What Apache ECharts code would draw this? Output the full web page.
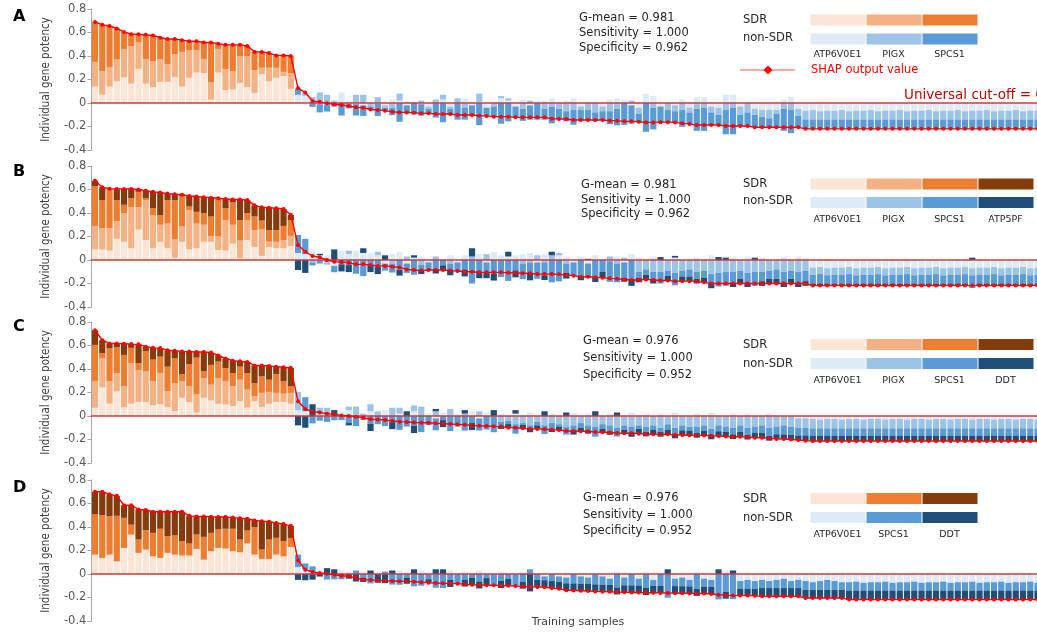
<!DOCTYPE html>
<html>
<head>
<meta charset="utf-8">
<script src="https://cdn.jsdelivr.net/npm/echarts@6/dist/echarts.min.js"></script>
<style>
  html, body { margin: 0; padding: 0; overflow: hidden; background: #ffffff; }
  #chart { width: 1060px; height: 632px; }
</style>
</head>
<body>
<div id="chart"></div>
<script>
// Per-sample SHAP contributions of each gene, samples ordered by model output.
// The first 28 samples are SDR, the rest non-SDR.
const SDR_COUNT = 28;
const SAMPLE_COUNT = 131;
const samples = Array.from({ length: SAMPLE_COUNT }, (_, i) => 'S' + (i + 1));

// ---- Panel A: ATP6V0E1, PIGX, SPCS1 ----
const A_ATP6V0E1 = [
  .14,.07,.14,.185,.22,.165,.29,.165,.135,.18,
  .18,.22,.14,.215,.26,.255,.03,.26,.11,.115,
  .17,.135,.085,.245,.185,.215,.23,.12,
  .07,.06,.03,-.01,-.013,.01,.09,.02,-.01,-.02,
  0,-.005,-.02,.03,.02,-.02,.015,-.01,-.03,0,
  .03,-.03,0,.04,-.02,.01,-.04,0,.04,.02,
  -.03,.03,-.02,.02,.02,.04,0,.02,.04,-.03,
  0,.01,-.03,.03,.04,.03,-.02,-.04,.08,.06,
  -.03,0,-.02,.03,-.04,.05,.05,-.03,-.04,.07,
  .07,-.03,0,-.05,-.06,-.06,-.06,.03,.05,-.05,
  -.065,-.06,-.07,-.065,-.065,-.06,-.07,-.065,-.065,-.06,
  -.07,-.065,-.065,-.06,-.07,-.065,-.065,-.06,-.07,-.065,
  -.065,-.06,-.07,-.065,-.065,-.06,-.07,-.065,-.065,-.06,
  -.07,-.065,-.065
];
const A_PIGX = [
  .21,.20,.165,.185,.24,.32,.225,.21,.22,.19,
  .15,.195,.295,.235,.19,.12,.145,.20,.18,.155,
  .23,.265,.195,.055,.115,.085,.035,.135,
  0,.03,.02,.09,.07,.01,0,-.01,.07,.07,
  -.03,.05,-.02,-.04,.06,.01,0,.02,-.02,.03,
  .04,-.02,.04,-.04,0,.07,0,-.03,.02,.02,
  0,-.05,.02,0,-.05,-.03,-.05,-.07,-.06,-.03,
  -.06,-.08,-.04,-.07,-.05,0,.02,-.05,0,-.04,
  0,-.06,-.05,-.06,-.04,-.05,-.04,-.05,-.06,-.06,
  -.04,-.07,-.08,-.05,-.06,-.07,-.03,-.05,-.06,-.06,
  -.075,-.08,-.07,-.075,-.075,-.08,-.07,-.075,-.075,-.08,
  -.07,-.075,-.075,-.08,-.07,-.075,-.075,-.08,-.07,-.075,
  -.075,-.08,-.07,-.075,-.075,-.08,-.07,-.075,-.075,-.08,
  -.07,-.075,-.075
];
const A_SPCS1 = [
  .34,.395,.35,.265,.145,.10,.07,.205,.22,.185,
  .215,.13,.10,.075,.075,.14,.34,.045,.205,.225,
  .095,.085,.155,.135,.125,.105,.14,.145,
  .055,0,-.033,-.07,-.06,-.031,-.107,-.036,-.097,-.09,
  -.025,-.105,-.025,-.064,-.16,-.07,-.097,-.098,-.038,-.124,
  -.164,-.044,-.142,-.102,-.082,-.188,-.07,-.086,-.176,-.156,
  -.092,-.102,-.122,-.142,-.092,-.143,-.086,-.086,-.125,-.085,
  -.085,-.075,-.075,-.11,-.14,-.186,-.156,-.07,-.245,-.185,
  -.133,-.103,-.095,-.143,-.098,-.187,-.197,-.107,-.087,-.206,
  -.226,-.096,-.116,-.107,-.087,-.077,-.117,-.187,-.197,-.097,
  -.08,-.08,-.08,-.08,-.08,-.08,-.08,-.08,-.08,-.08,
  -.08,-.08,-.08,-.08,-.08,-.08,-.08,-.08,-.08,-.08,
  -.08,-.08,-.08,-.08,-.08,-.08,-.08,-.08,-.08,-.08,
  -.08,-.08,-.08
];

// ---- Panel B: ATP6V0E1, PIGX, SPCS1, ATP5PF ----
const B_ATP6V0E1 = [
  .09,.09,.08,.18,.155,.10,.26,.17,.10,.155,
  .10,.02,.155,.09,.10,.155,.155,.085,.08,.14,
  .015,.17,.11,.035,.11,.10,.10,.12,
  .06,.05,.08,.04,.04,-.05,.08,.05,.08,.06,
  .06,.04,-.03,.05,.07,-.03,.02,.03,-.02,0,
  0,.04,-.02,.04,0,.05,-.02,.07,.04,.03,
  .04,.05,.06,-.02,.05,0,.04,.03,-.02,.03,
  -.03,.04,0,-.01,.03,-.02,.05,.02,0,.03,
  0,0,.02,0,0,.02,0,.04,0,0,
  .03,0,.03,0,.02,0,0,.03,0,.03,
  .02,-.065,-.06,-.07,-.065,-.065,-.06,-.07,-.065,-.065,
  -.06,-.07,-.065,-.065,-.06,-.07,-.065,-.065,-.06,-.07,
  -.065,-.065,-.06,-.07,-.065,-.065,-.06,-.07,-.065,-.065,
  -.06,-.07,-.065
];
const B_PIGX = [
  .20,.18,.19,.15,.245,.35,.19,.34,.28,.145,
  .21,.155,.13,.335,.21,.145,.05,.115,.26,.16,
  .15,.17,.145,.225,.045,.055,.07,.085,
  0,0,-.02,0,-.04,0,0,.03,0,0,
  0,.03,0,-.03,0,.03,0,-.04,0,.03,
  0,-.03,0,0,.03,0,.05,0,0,0,
  0,-.03,-.02,.04,-.02,.04,.02,-.03,0,0,
  0,0,0,.03,-.03,.02,0,-.1,-.08,-.1,
  -.1,-.09,-.11,-.09,-.08,-.1,-.09,-.12,-.11,-.1,
  -.1,-.09,-.11,-.1,-.1,-.09,-.08,-.1,-.09,-.1,
  -.09,-.06,-.06,-.06,-.06,-.06,-.06,-.06,-.06,-.06,
  -.06,-.06,-.06,-.06,-.06,-.06,-.06,-.06,-.06,-.06,
  -.06,-.06,-.06,-.06,-.06,-.06,-.06,-.06,-.06,-.06,
  -.06,-.06,-.06
];
const B_SPCS1 = [
  .34,.24,.337,.18,.07,.075,.13,.015,.06,.08,
  .20,.335,.27,.03,.10,.10,.165,.325,.10,.19,
  .175,.06,.115,.075,.10,.10,.12,.135,
  .153,.13,-.026,-.03,0,-.054,-.037,-.043,-.117,-.137,
  -.043,-.06,-.06,-.077,-.083,-.08,-.125,-.05,-.065,-.075,
  -.045,-.06,-.074,-.08,-.2,-.1,-.09,-.115,-.145,-.178,
  -.088,-.133,-.093,-.14,-.11,-.19,-.182,-.078,-.113,-.132,
  -.122,-.147,-.1,-.176,-.16,-.13,-.17,-.05,-.045,-.06,
  -.1,-.045,-.105,-.05,-.06,-.06,-.06,-.08,-.115,-.12,
  -.09,-.07,-.08,-.12,-.08,-.07,-.08,-.09,-.07,-.09,
  -.09,-.075,-.08,-.07,-.075,-.075,-.08,-.07,-.075,-.075,
  -.08,-.07,-.075,-.075,-.08,-.07,-.075,-.075,-.08,-.07,
  -.075,-.075,-.08,-.108,-.075,-.075,-.08,-.07,-.075,-.075,
  -.08,-.07,-.075
];
const B_ATP5PF = [
  .045,.11,0,.095,.135,.08,.02,.065,.14,.195,
  .055,.05,0,.09,.13,.135,.16,0,.08,.025,
  .175,.11,.095,.115,.19,.185,.145,.045,
  -.085,-.11,0,.013,0,.09,-.06,-.06,0,.04,
  -.06,-.06,.04,0,-.05,0,.02,-.03,0,-.04,
  -.04,-.04,0,-.06,.07,-.055,-.045,-.06,0,.04,
  -.06,0,-.06,0,-.04,.03,0,-.05,0,-.04,
  .01,-.04,-.05,0,0,-.035,-.05,-.04,-.04,-.04,
  .025,-.04,.015,-.04,-.04,-.04,-.04,-.04,.025,.02,
  -.04,-.04,-.04,.02,-.04,-.04,-.04,-.04,-.04,-.04,
  -.04,-.018,-.018,-.018,-.018,-.018,-.018,-.018,-.018,-.018,
  -.018,-.018,-.018,-.018,-.018,-.018,-.018,-.018,-.018,-.018,
  -.018,-.018,-.018,.02,-.018,-.018,-.018,-.018,-.018,-.018,
  -.018,-.018,-.018
];

// ---- Panel C: ATP6V0E1, PIGX, SPCS1, DDT ----
const C_ATP6V0E1 = [
  .07,.245,.105,.21,.075,.105,.12,.12,.09,.10,
  .075,.04,.155,.12,.03,.155,.132,.104,.098,.084,
  .126,.07,.126,.076,.104,.12,.12,.104,
  .05,.04,0,.03,0,0,.04,.05,0,-.02,
  .04,0,.05,0,.02,0,.04,0,.02,-.02,
  .03,0,.02,0,.04,-.02,.03,0,.02,0,
  .02,0,.03,0,0,.02,0,0,.03,0,
  .02,0,0,.02,0,0,.03,0,.02,0,
  .02,0,.03,0,0,.02,0,.03,0,0,
  .02,0,.02,0,0,.02,0,0,0,-.02,
  -.02,-.025,-.03,-.025,-.025,-.03,-.025,-.025,-.03,-.025,
  -.025,-.03,-.025,-.025,-.03,-.025,-.025,-.03,-.025,-.025,
  -.03,-.025,-.025,-.03,-.025,-.025,-.03,-.025,-.025,-.03,
  -.025,-.025,-.03
];
const C_PIGX = [
  .225,.245,.19,.155,.18,.345,.27,.26,.205,.265,
  .135,.24,.14,.133,.153,.168,.135,.219,.197,.169,
  .183,.155,.042,.121,.101,.077,.07,.093,
  .155,0,0,.04,.07,0,0,.03,.08,.02,
  .06,.04,0,.07,.05,0,.05,.08,0,.04,
  0,.06,0,.02,0,.04,0,0,-.05,-.04,
  -.07,-.06,-.08,-.05,-.08,-.06,-.07,-.09,-.08,-.06,
  -.08,-.09,-.07,-.08,-.1,-.08,-.09,-.08,-.09,-.08,
  -.1,-.07,-.1,-.08,-.09,-.09,-.08,-.11,-.08,-.09,
  -.1,-.08,-.1,-.09,-.08,-.1,-.09,-.08,-.09,-.08,
  -.08,-.08,-.075,-.08,-.08,-.075,-.08,-.08,-.075,-.08,
  -.08,-.075,-.08,-.08,-.075,-.08,-.08,-.075,-.08,-.08,
  -.075,-.08,-.08,-.075,-.08,-.08,-.075,-.08,-.08,-.075,
  -.08,-.08,-.075
];
const C_SPCS1 = [
  .31,.045,.28,.22,.265,.13,.06,.17,.185,.14,
  .21,.21,.062,.187,.314,.057,.168,.14,.112,.112,
  .111,.14,.112,.14,.104,.16,.105,.056,
  0,.12,-.063,-.04,-.05,-.036,-.035,-.06,-.086,-.014,
  -.068,-.07,-.085,-.052,-.118,-.09,-.085,-.137,-.077,-.102,
  -.035,-.128,-.091,-.124,-.06,-.103,-.115,-.138,-.03,-.029,
  -.08,-.015,-.028,-.03,-.073,-.046,-.02,-.068,-.048,-.04,
  -.04,-.086,-.038,-.05,-.075,-.037,-.047,-.03,-.043,-.035,
  -.036,-.046,-.05,-.042,-.034,-.055,-.045,-.048,-.05,-.045,
  -.056,-.056,-.06,-.055,-.065,-.07,-.065,-.076,-.07,-.065,
  -.065,-.062,-.062,-.062,-.062,-.062,-.062,-.062,-.062,-.062,
  -.062,-.062,-.062,-.062,-.062,-.062,-.062,-.062,-.062,-.062,
  -.062,-.062,-.062,-.062,-.062,-.062,-.062,-.062,-.062,-.062,
  -.062,-.062,-.062
];
const C_DDT = [
  .125,.11,.043,.033,.095,.032,.16,.04,.10,.073,
  .14,.065,.193,.108,.048,.165,.105,.052,.083,.105,
  .045,.095,.15,.093,.116,.063,.12,.157,
  -.08,-.1,.1,0,0,.05,0,-.02,0,0,
  -.06,0,0,-.06,0,.04,-.06,0,0,.02,
  -.06,0,0,.03,-.06,0,0,.05,-.03,-.03,
  .03,-.03,-.03,-.03,.04,-.03,-.03,.03,-.03,-.03,
  -.03,.04,-.03,-.03,.03,-.03,-.04,-.04,-.04,-.04,
  -.04,-.04,-.04,-.04,-.04,-.04,-.04,-.04,-.04,-.04,
  -.04,-.04,-.04,-.04,-.04,-.04,-.04,-.04,-.04,-.04,
  -.045,-.046,-.046,-.046,-.046,-.046,-.046,-.046,-.046,-.046,
  -.046,-.046,-.046,-.046,-.046,-.046,-.046,-.046,-.046,-.046,
  -.046,-.046,-.046,-.046,-.046,-.046,-.046,-.046,-.046,-.046,
  -.046,-.046,-.046
];

// ---- Panel D: ATP6V0E1, SPCS1, DDT ----
const D_ATP6V0E1 = [
  .165,.137,.165,.108,.222,.335,.18,.208,.15,.137,
  .18,.165,.157,.157,.214,.122,.194,.222,.216,.194,
  .185,.26,.165,.128,.128,.165,.15,.23,
  .06,.04,.02,.03,0,0,.03,.02,0,.02,
  0,.02,0,0,.03,.02,0,.03,0,0,
  0,.03,0,.02,0,.03,0,0,.02,0,
  0,.02,0,0,-.02,0,-.02,-.03,0,-.02,
  -.03,0,-.02,-.04,.02,-.03,0,-.04,.02,-.05,
  0,0,-.04,-.03,-.05,.02,-.04,-.05,0,.03,
  0,-.06,-.05,-.06,-.05,-.06,-.05,-.04,-.06,-.05,
  -.06,-.07,-.06,-.05,-.06,-.07,-.07,-.065,-.075,-.07,
  -.07,-.065,-.075,-.07,-.07,-.065,-.075,-.07,-.07,-.065,
  -.075,-.07,-.07,-.065,-.075,-.07,-.07,-.065,-.075,-.07,
  -.07,-.065,-.075
];
const D_SPCS1 = [
  .342,.363,.328,.387,.256,.085,.113,.165,.2,.248,
  .142,.163,.123,.103,.122,.194,.156,.157,.169,.191,
  .108,.11,.235,.08,.165,.143,.13,.077,
  .105,.05,.045,0,-.047,-.046,-.045,0,.03,-.03,
  -.08,0,.02,-.09,-.092,-.03,-.105,-.1,-.044,-.117,
  -.119,-.05,-.082,-.047,-.031,-.063,-.035,-.096,-.059,-.04,
  -.103,-.065,.04,-.05,-.033,-.06,-.045,-.049,-.08,-.062,
  -.055,-.088,-.07,-.052,-.114,-.066,-.097,-.058,-.119,-.05,
  -.101,-.202,-.063,-.074,-.055,-.126,-.067,-.06,-.216,-.15,
  -.214,-.064,-.074,-.066,-.07,-.06,-.07,-.08,-.06,-.07,
  -.074,-.064,-.074,-.084,-.074,-.064,-.07,-.075,-.065,-.07,
  -.07,-.075,-.065,-.07,-.07,-.075,-.065,-.07,-.07,-.075,
  -.065,-.07,-.07,-.075,-.065,-.07,-.07,-.075,-.065,-.07,
  -.07,-.075,-.065
];
const D_DDT = [
  .193,.2,.185,.17,.107,.165,.257,.172,.18,.145,
  .208,.202,.25,.235,.154,.174,.137,.106,.1,.095,
  .182,.1,.055,.242,.152,.127,.145,.103,
  -.05,-.053,-.048,-.022,.05,.04,0,-.04,-.064,-.038,
  .03,-.074,-.078,.03,0,-.053,.04,0,-.03,.04,
  .04,-.06,0,-.06,-.06,-.06,-.06,0,-.06,-.06,
  0,-.06,-.148,-.06,-.06,-.06,-.06,-.06,-.06,-.06,
  -.06,-.06,-.06,-.06,-.06,-.06,-.06,-.06,-.06,-.06,
  -.06,.04,-.06,-.06,-.06,-.06,-.06,-.06,.04,-.06,
  .03,-.06,-.06,-.06,-.07,-.07,-.07,-.07,-.07,-.07,
  -.07,-.07,-.07,-.07,-.07,-.07,-.078,-.078,-.078,-.078,
  -.078,-.078,-.078,-.078,-.078,-.078,-.078,-.078,-.078,-.078,
  -.078,-.078,-.078,-.078,-.078,-.078,-.078,-.078,-.078,-.078,
  -.078,-.078,-.078
];

// Classification scores printed beside each panel
const STATS_A = ['G-mean = 0.981', 'Sensitivity = 1.000', 'Specificity = 0.962'];
const STATS_B = ['G-mean = 0.981', 'Sensitivity = 1.000', 'Specificity = 0.962'];
const STATS_C = ['G-mean = 0.976', 'Sensitivity = 1.000', 'Specificity = 0.952'];
const STATS_D = ['G-mean = 0.976', 'Sensitivity = 1.000', 'Specificity = 0.952'];
const Y_TICKS = { min: -0.4, max: 0.8, step: 0.2 };

// Palette: tone index 0..3 from lightest to darkest
const SDR_TONES = ['#fbe5d6', '#f4b183', '#ed7d31', '#843c0c'];
const NON_TONES = ['#deebf7', '#9dc3e6', '#5b9bd5', '#1f4e79'];

const panels = [
  { letter: 'A', genes: ['ATP6V0E1', 'PIGX', 'SPCS1'], values: [A_ATP6V0E1, A_PIGX, A_SPCS1], tones: [0, 1, 2], stats: STATS_A,
    top: 9, letterY: 17, statsX: 579, statsY: [18, 33, 48], keyY: [20, 38], rowY: [14.5, 33.5], geneY: 55 },
  { letter: 'B', genes: ['ATP6V0E1', 'PIGX', 'SPCS1', 'ATP5PF'], values: [B_ATP6V0E1, B_PIGX, B_SPCS1, B_ATP5PF], tones: [0, 1, 2, 3], stats: STATS_B,
    top: 166, letterY: 172, statsX: 581, statsY: [185, 200, 214], keyY: [184, 201.5], rowY: [178.5, 197], geneY: 220 },
  { letter: 'C', genes: ['ATP6V0E1', 'PIGX', 'SPCS1', 'DDT'], values: [C_ATP6V0E1, C_PIGX, C_SPCS1, C_DDT], tones: [0, 1, 2, 3], stats: STATS_C,
    top: 322, letterY: 327, statsX: 583, statsY: [341, 358, 375], keyY: [345, 364], rowY: [339, 358], geneY: 381 },
  { letter: 'D', genes: ['ATP6V0E1', 'SPCS1', 'DDT'], values: [D_ATP6V0E1, D_SPCS1, D_DDT], tones: [0, 2, 3], stats: STATS_D,
    top: 480, letterY: 488, statsX: 583, statsY: [498, 515, 531], keyY: [499, 518], rowY: [493, 512], geneY: 535 }
];

const FONT = '"DejaVu Sans", "Noto Sans", sans-serif';
const PLOT_H = 141;
const PLOT_LEFT = 91.4;
const PLOT_RIGHT = 18.85;

const grid = [], xAxis = [], yAxis = [], series = [], graphic = [];

function text(x, y, str, size, color, extra) {
  return {
    type: 'text', x: x, y: y, silent: true,
    style: Object.assign({ text: str, fill: color, font: size + 'px ' + FONT, align: 'left', verticalAlign: 'middle' }, extra || {})
  };
}

panels.forEach((p, k) => {
  grid.push({ left: PLOT_LEFT, right: PLOT_RIGHT, top: p.top, height: PLOT_H });
  xAxis.push({
    gridIndex: k, type: 'category', data: samples, z: 3,
    axisLabel: { show: false }, axisTick: { show: false }, splitLine: { show: false },
    axisLine: { show: true, onZero: true, lineStyle: { color: '#d23a3a', width: 1.6 } }
  });
  yAxis.push({
    gridIndex: k, type: 'value', min: Y_TICKS.min, max: Y_TICKS.max, interval: Y_TICKS.step,
    axisLine: { show: true, lineStyle: { color: '#a6a6a6', width: 1 } },
    axisTick: { show: true, length: 4, lineStyle: { color: '#a6a6a6' } },
    splitLine: { show: false },
    axisLabel: {
      margin: 5, color: '#595959', fontSize: 11.5, fontFamily: FONT,
      formatter: v => (Math.abs(v) < 1e-9 ? '0' : String(+v.toFixed(1)))
    },
    name: 'Individual gene potency', nameLocation: 'middle', nameGap: 39, nameRotate: 90,
    nameTextStyle: { color: '#404040', fontSize: 11.5, fontFamily: '"Liberation Sans Narrow", "DejaVu Sans Condensed", sans-serif' }
  });

  p.values.forEach((vals, j) => {
    const t = p.tones[j];
    series.push({
      type: 'bar', name: p.genes[j], xAxisIndex: k, yAxisIndex: k, stack: 'panel' + k,
      barCategoryGap: '14%', silent: true, z: 2,
      data: vals.map((v, i) => ({ value: v, itemStyle: { color: i < SDR_COUNT ? SDR_TONES[t] : NON_TONES[t] } }))
    });
  });

  // SHAP output value: sum of the gene contributions of each sample
  const output = samples.map((_, i) => +p.values.reduce((s, arr) => s + arr[i], 0).toFixed(3));
  series.push({
    type: 'line', name: 'SHAP output value', xAxisIndex: k, yAxisIndex: k, z: 5, silent: true,
    data: output, symbol: 'circle', symbolSize: 4, showSymbol: true,
    itemStyle: { color: '#ff0000' }, lineStyle: { color: '#ff0000', width: 1.4 }
  });

  // panel letter
  graphic.push(text(13, p.letterY, p.letter, 16, '#000000', { font: 'bold 16px ' + FONT }));

  // scores
  p.stats.forEach((s, r) => graphic.push(text(p.statsX, p.statsY[r], s, 11.5, '#262626')));

  // colour key
  graphic.push(text(743, p.keyY[0], 'SDR', 11.5, '#262626'));
  graphic.push(text(743, p.keyY[1], 'non-SDR', 11.5, '#262626'));
  p.genes.forEach((g, j) => {
    const x0 = 810.5 + 56 * j;
    graphic.push({ type: 'rect', silent: true, shape: { x: x0, y: p.rowY[0], width: 55, height: 11 }, style: { fill: SDR_TONES[p.tones[j]] } });
    graphic.push({ type: 'rect', silent: true, shape: { x: x0, y: p.rowY[1], width: 55, height: 11 }, style: { fill: NON_TONES[p.tones[j]] } });
    graphic.push(text(x0 + 27, p.geneY, g, 9.5, '#262626', { align: 'center' }));
  });
});

// line key and cut-off note (panel A)
graphic.push({ type: 'line', silent: true, shape: { x1: 740, y1: 70, x2: 795, y2: 70 }, style: { stroke: '#ff5050', lineWidth: 1.2 } });
graphic.push({ type: 'polygon', silent: true, shape: { points: [[768, 65.5], [772.5, 70], [768, 74.5], [763.5, 70]] }, style: { fill: '#ff0000' } });
graphic.push(text(811, 70, 'SHAP output value', 11.5, '#ff0000'));
graphic.push(text(904, 95, 'Universal cut-off = 0', 13.5, '#c00000'));

// shared x title
graphic.push(text(578, 622, 'Training samples', 11, '#404040', { align: 'center' }));

const chart = echarts.init(document.getElementById('chart'), null, { renderer: 'canvas' });
chart.setOption({
  animation: false,
  backgroundColor: '#ffffff',
  grid: grid,
  xAxis: xAxis,
  yAxis: yAxis,
  series: series,
  graphic: graphic
});
</script>
</body>
</html>
